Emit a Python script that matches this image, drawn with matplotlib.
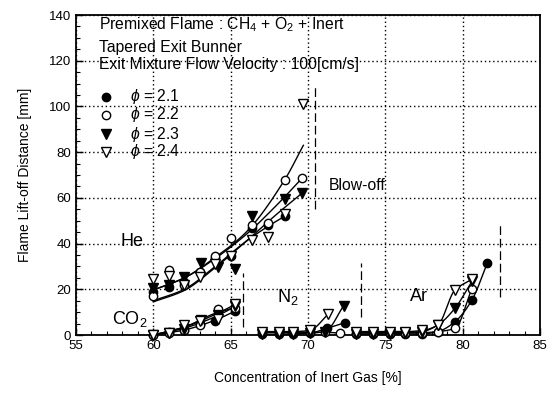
import numpy as np
import matplotlib
matplotlib.use("Agg")
import matplotlib.pyplot as plt
from matplotlib.ticker import MultipleLocator

plt.rcParams['font.family'] = ['Liberation Sans', 'DejaVu Sans']
plt.rcParams['mathtext.fontset'] = 'custom'
plt.rcParams['mathtext.rm'] = 'Liberation Sans'
plt.rcParams['mathtext.it'] = 'Liberation Sans:italic'

# ---------------- data (markers) ----------------
phis = ['2.1', '2.2', '2.3', '2.4']

he_x_21 = [60, 61, 62, 63, 64, 65, 66.4, 67.4, 68.5]
he_y_21 = [19, 21, 23, 27.7, 33.6, 34.5, 47, 48, 52]
he_x_22 = [60, 61, 62, 63, 64, 65, 66.4, 67.4, 68.5, 69.6]
he_y_22 = [17, 28.4, 22, 27.7, 34.5, 42.3, 48, 49, 68, 68.5]
he_x_23 = [60, 61, 62, 63.1, 64.2, 65.3, 66.4, 68.5, 69.6]
he_y_23 = [20.4, 21.9, 25.5, 31.6, 29.6, 28.9, 52, 59.3, 62]
he_x_24 = [60, 61, 62, 63, 64, 65, 66.4, 67.4, 68.5, 69.7]
he_y_24 = [24.4, 25.8, 22, 25.5, 31, 34.5, 41.6, 43, 53, 101]

co2_x_21 = [60, 61, 62, 63, 64, 65.3]
co2_y_21 = [0, 1.5, 2.2, 5, 6, 10.5]
co2_x_22 = [60, 61, 62, 63, 64.2, 65.3]
co2_y_22 = [0, 1, 2, 4.5, 11.2, 12]
co2_x_23 = [60, 61, 62, 63.1, 64.2, 65.3]
co2_y_23 = [0, 1, 2.5, 6.6, 8.7, 12.5]
co2_x_24 = [60, 61, 62, 63, 64.2, 65.3]
co2_y_24 = [0, 1, 4.4, 6, 7, 13.4]

n2_x_21 = [67.0, 68.1, 69.0, 70.1, 71.2, 72.4]
n2_y_21 = [0.3, 0.3, 0.5, 0.8, 2.9, 5.4]
n2_x_22 = [67.0, 68.1, 69.0, 70.1, 71.1, 72.1]
n2_y_22 = [1.2, 1.2, 1.2, 1.2, 1.2, 0.8]
n2_x_23 = [67.0, 68.1, 69.0, 70.1, 71.1, 72.3]
n2_y_23 = [0.3, 0.3, 0.5, 0.8, 1.5, 12.7]
n2_x_24 = [67.0, 68.1, 69.0, 70.1, 71.3]
n2_y_24 = [1.5, 1.5, 1.5, 2.0, 9.0]

ar_x_21 = [73.1, 74.2, 75.3, 76.3, 77.4, 78.4, 79.5, 80.6, 81.6]
ar_y_21 = [0.3, 0.3, 0.3, 0.5, 0.5, 1.5, 5.8, 15.3, 31.6]
ar_x_22 = [73.1, 74.2, 75.3, 76.3, 77.4, 78.4, 79.5, 80.6]
ar_y_22 = [1, 1, 1, 1, 1, 1.5, 2.9, 20.3]
ar_x_23 = [73.1, 74.2, 75.3, 76.3, 77.4, 78.4, 79.5, 80.6]
ar_y_23 = [0.5, 0.5, 0.5, 1, 1.5, 4.4, 11.7, 23.5]
ar_x_24 = [73.1, 74.2, 75.3, 76.3, 77.4, 78.4, 79.5, 80.6]
ar_y_24 = [1.5, 1.5, 1.5, 1.5, 2, 4.4, 19.7, 24.4]

# fitted curves (He and CO2)
he_fit_x_21 = [60, 62, 64, 66, 67.4, 68.5]
he_fit_y_21 = [15, 20, 30, 41, 47.5, 52]
he_fit_x_22 = [60, 62, 64, 66, 68.5, 69.7]
he_fit_y_22 = [19.7, 25, 34, 45, 68, 83]
he_fit_x_23 = [60, 62, 64, 66, 68, 69.6]
he_fit_y_23 = [14.5, 19.5, 29.5, 41, 53, 62]
he_fit_x_24 = [60, 62, 64, 66, 68, 69.6]
he_fit_y_24 = [19.7, 25, 33.5, 44, 57, 68.5]

co2_fit_x_21 = [60, 61, 62, 64, 65.3]
co2_fit_y_21 = [0, 1, 2.2, 6.5, 10.5]
co2_fit_x_22 = [60, 62, 64, 65.3]
co2_fit_y_22 = [0, 3.5, 9.5, 12]
co2_fit_x_23 = [60, 62, 64, 65.3]
co2_fit_y_23 = [0, 3, 8, 12.5]
co2_fit_x_24 = [60, 62, 64, 65.3]
co2_fit_y_24 = [0, 3.5, 9, 13.4]

# blow-off limits
blow_x = [65.8, 70.45, 73.4, 82.4]
blow_lo = [3.6, 55, 8, 16.8]
blow_hi = [27, 110, 31.4, 48]

x_ticks = [55, 60, 65, 70, 75, 80, 85]
y_ticks = [0, 20, 40, 60, 80, 100, 120, 140]


def smooth(x, y, n=25):
    x = np.asarray(x, float); y = np.asarray(y, float)
    h = np.diff(x); d = np.diff(y) / h
    m = np.zeros_like(y)
    m[0] = d[0]; m[-1] = d[-1]
    for k in range(1, len(x) - 1):
        if d[k - 1] * d[k] <= 0:
            m[k] = 0
        else:
            w1 = 2 * h[k] + h[k - 1]; w2 = h[k] + 2 * h[k - 1]
            m[k] = (w1 + w2) / (w1 / d[k - 1] + w2 / d[k])
    xs, ys = [], []
    t = np.linspace(0, 1, n)
    h00 = 2 * t**3 - 3 * t**2 + 1; h10 = t**3 - 2 * t**2 + t
    h01 = -2 * t**3 + 3 * t**2; h11 = t**3 - t**2
    for k in range(len(h)):
        xs.append(x[k] + t * h[k])
        ys.append(h00 * y[k] + h10 * h[k] * m[k] + h01 * y[k + 1] + h11 * h[k] * m[k + 1])
    return np.concatenate(xs), np.concatenate(ys)


styles = {
    '2.1': dict(marker='o', mfc='black', mec='black', ms=6),
    '2.2': dict(marker='o', mfc='white', mec='black', ms=6),
    '2.3': dict(marker='v', mfc='black', mec='black', ms=6.5),
    '2.4': dict(marker='v', mfc='white', mec='black', ms=6.5),
}

fig = plt.figure(figsize=(5.48, 3.96), dpi=100)
ax = fig.add_axes([0.1387, 0.154, 0.8467, 0.808])

g = globals()
# fitted curves
for gas in ['he', 'co2']:
    for p in ['21', '22', '23', '24']:
        sx, sy = smooth(g[f'{gas}_fit_x_{p}'], g[f'{gas}_fit_y_{p}'])
        ax.plot(sx, sy, color='black', lw=1.0, zorder=3)
for gas in ['n2', 'ar']:
    for p in ['21', '22', '23', '24']:
        sx, sy = smooth(g[f'{gas}_x_{p}'], g[f'{gas}_y_{p}'])
        ax.plot(sx, sy, color='black', lw=1.0, zorder=3)

# markers
for gas in ['he', 'co2', 'n2', 'ar']:
    for p, phi in zip(['21', '22', '23', '24'], phis):
        ax.plot(g[f'{gas}_x_{p}'], g[f'{gas}_y_{p}'], ls='none', mew=1.0,
                zorder=4, clip_on=False, **styles[phi])

# blow-off dashed lines
for bx, lo, hi in zip(blow_x, blow_lo, blow_hi):
    ax.plot([bx, bx], [lo, hi], color='black', lw=0.9, dashes=(7, 3), zorder=3)

ax.set_xlim(55, 85)
ax.set_ylim(0, 140)
ax.set_xticks(x_ticks)
ax.set_yticks(y_ticks)
ax.xaxis.set_minor_locator(MultipleLocator(1))
ax.yaxis.set_minor_locator(MultipleLocator(5))
ax.tick_params(which='both', direction='in', top=False, right=False, labelsize=9.5)
ax.tick_params(which='major', length=5, width=1)
ax.tick_params(which='minor', length=3, width=0.8)
for s in ax.spines.values():
    s.set_linewidth(1.3)
ax.grid(True, which='major', color='black', ls=(0, (1, 2)), lw=1.0)

ax.set_xlabel('Concentration of Inert Gas [%]', fontsize=10, labelpad=14)
ax.set_ylabel('Flame Lift-off Distance [mm]', fontsize=10, labelpad=12)

# annotations
ax.text(0.05, 0.969, 'Premixed Flame : CH$_4$ + O$_2$ + Inert', transform=ax.transAxes,
        fontsize=11.3, va='center', ha='left')
ax.text(0.05, 0.900, 'Tapered Exit Bunner', transform=ax.transAxes,
        fontsize=11.3, va='center', ha='left')
ax.text(0.05, 0.844, 'Exit Mixture Flow Velocity : 100[cm/s]', transform=ax.transAxes,
        fontsize=11.3, va='center', ha='left')

leg_y = [0.744, 0.688, 0.628, 0.572]
for phi, yy in zip(phis, leg_y):
    ax.plot([0.065], [yy], transform=ax.transAxes, ls='none', mew=1.0,
            clip_on=False, zorder=5, **styles[phi])
    ax.text(0.116, yy, r'$\phi$ = ' + phi, transform=ax.transAxes,
            fontsize=11.3, va='center', ha='left')

ax.text(71.35, 65.6, 'Blow-off', fontsize=11.3, va='center', ha='left')
ax.text(57.9, 41, 'He', fontsize=13, va='center', ha='left')
ax.text(57.3, 7.2, 'CO$_2$', fontsize=13, va='center', ha='left')
ax.text(68.0, 16.6, 'N$_2$', fontsize=13, va='center', ha='left')
ax.text(76.6, 17, 'Ar', fontsize=13, va='center', ha='left')

fig.savefig('out.png', dpi=100)
